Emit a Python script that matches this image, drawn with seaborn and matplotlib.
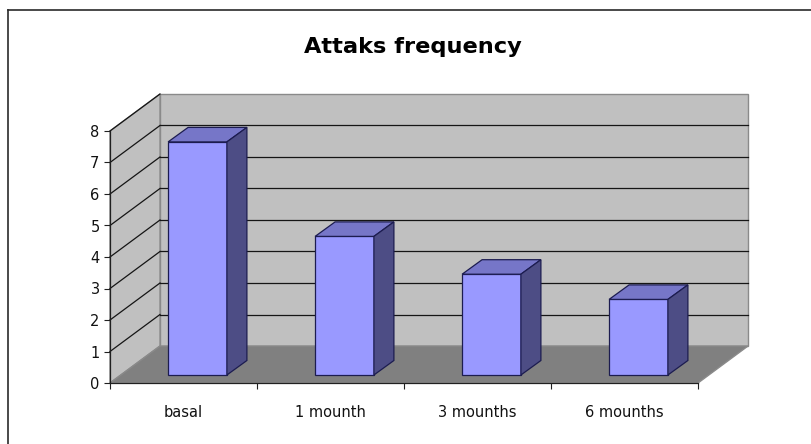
import matplotlib
matplotlib.use("Agg")
import matplotlib.pyplot as plt
import seaborn as sns
from matplotlib.patches import Polygon
from matplotlib.transforms import ScaledTranslation
from matplotlib.lines import Line2D

# ---- data ----
categories = ["basal", "1 mounth", "3 mounths", "6 mounths"]
attacks = [7.4, 4.4, 3.2, 2.4]
y_ticks = [0, 1, 2, 3, 4, 5, 6, 7, 8]
title = "Attaks frequency"

# ---- figure ----
W, H, DPI = 812, 444, 100
fig = plt.figure(figsize=(W / DPI, H / DPI), dpi=DPI)
fig.patch.set_facecolor("white")
plt.rcParams["font.family"] = ["DejaVu Sans"]

# front plane of the 3D box (pixel columns / rows)
X0, X1 = 110, 698
Y0, Y1 = 383, 131
ax = fig.add_axes([X0 / W, (H - Y0) / H, (X1 - X0) / W, (Y0 - Y1) / H])
ax.set_facecolor("none")

sns.barplot(x=categories, y=attacks, color="#9999FF", saturation=1,
            width=0.4, edgecolor="#1C1C50", linewidth=0.9, ax=ax, zorder=3)
ax.set_xlim(-0.5, 3.5)
ax.set_ylim(0, 8)
ax.set_xlabel("")
ax.set_ylabel("")

px_x = (X1 - X0) / 4.0
px_y = (Y0 - Y1) / 8.0


def to_data(dx, dy):
    return dx / px_x, dy / px_y


# depth of the box (front plane -> back wall) and of each bar
bdx, bdy = to_data(50, 37)
cdx, cdy = to_data(20, 14.5)

# bars sit a little behind the front plane
bar_tr = ax.transData + ScaledTranslation(14 / DPI, 8 / DPI, fig.dpi_scale_trans)
bars = list(ax.patches)
for p in bars:
    p.set_transform(bar_tr)
    p.set_clip_on(False)
    x0 = p.get_x()
    x1 = x0 + p.get_width()
    h = p.get_height()
    top = Polygon([(x0, h), (x1, h), (x1 + cdx, h + cdy), (x0 + cdx, h + cdy)],
                  closed=True, facecolor="#7676C8", edgecolor="#1C1C50",
                  linewidth=0.9, transform=bar_tr, clip_on=False, zorder=3)
    side = Polygon([(x1, 0), (x1 + cdx, cdy), (x1 + cdx, h + cdy), (x1, h)],
                   closed=True, facecolor="#4D4D85", edgecolor="#1C1C50",
                   linewidth=0.9, transform=bar_tr, clip_on=False, zorder=3)
    ax.add_patch(top)
    ax.add_patch(side)

L, R = -0.5, 3.5
wall_kw = dict(closed=True, clip_on=False, linewidth=1.0, edgecolor="#8A8A8A")
# back wall
ax.add_patch(Polygon([(L + bdx, bdy), (R + bdx, bdy), (R + bdx, 8 + bdy), (L + bdx, 8 + bdy)],
                     facecolor="#C0C0C0", zorder=0.5, **wall_kw))
# side wall
ax.add_patch(Polygon([(L, 0), (L + bdx, bdy), (L + bdx, 8 + bdy), (L, 8)],
                     facecolor="#C0C0C0", zorder=0.5, **wall_kw))
# floor
ax.add_patch(Polygon([(L, 0), (R, 0), (R + bdx, bdy), (L + bdx, bdy)],
                     facecolor="#808080", zorder=0.6, **wall_kw))

# gridlines on the walls
for v in y_ticks[1:]:
    ax.add_line(Line2D([L, L + bdx], [v, v + bdy], color="#151515",
                       linewidth=0.9, clip_on=False, zorder=0.8))
    if v < 8:
        ax.add_line(Line2D([L + bdx, R + bdx], [v + bdy, v + bdy], color="#151515",
                           linewidth=0.9, clip_on=False, zorder=0.8))

# axes, ticks and labels
for s in ("top", "right"):
    ax.spines[s].set_visible(False)
for s in ("left", "bottom"):
    ax.spines[s].set_color("#202020")
    ax.spines[s].set_linewidth(0.9)

ax.set_yticks(y_ticks)
ax.set_yticklabels([str(t) for t in y_ticks])
ax.tick_params(axis="y", length=4, width=0.8, pad=3.5, labelsize=10.5,
               colors="#202020", labelcolor="#111111")
ax.set_xticks([-0.5, 0.5, 1.5, 2.5, 3.5])
ax.set_xticklabels([])
ax.set_xticks(range(len(categories)), minor=True)
ax.set_xticklabels(categories, minor=True)
ax.tick_params(axis="x", which="major", length=4, width=0.8, colors="#202020")
ax.tick_params(axis="x", which="minor", length=0, pad=15.5, labelsize=10.5,
               labelcolor="#111111")

fig.text(413 / W, (H - 53) / H, title, ha="center", va="baseline",
         fontsize=16.2, fontweight="bold", color="#000000")

# chart frame
fig.add_artist(Line2D([8.5 / W, 8.5 / W], [0, (H - 10.5) / H], color="#2A2A2A",
                      linewidth=1.2, transform=fig.transFigure))
fig.add_artist(Line2D([8.5 / W, 1], [(H - 10.5) / H, (H - 10.5) / H], color="#2A2A2A",
                      linewidth=1.2, transform=fig.transFigure))

fig.savefig("out.png", dpi=DPI, facecolor="white")
